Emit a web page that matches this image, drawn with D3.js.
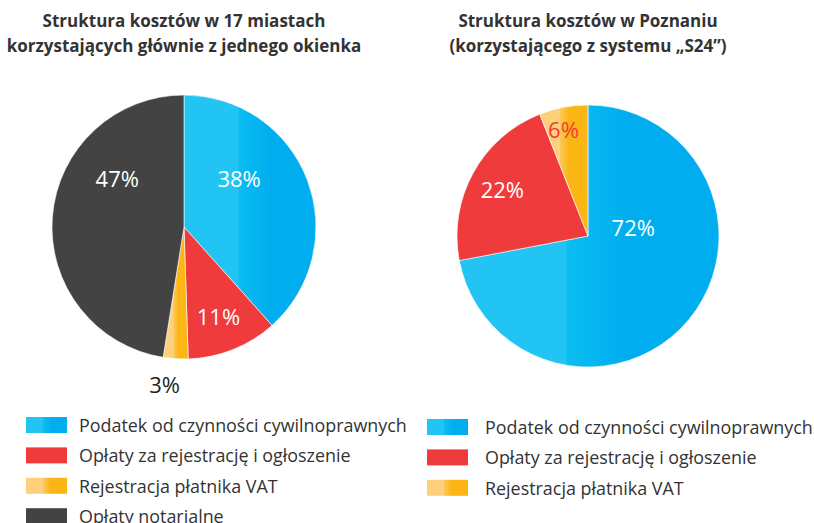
<!DOCTYPE html>
<meta charset="utf-8">
<style>
body { margin: 0; background: #fff; }
svg text { font-family: "Open Sans", "Noto Sans", sans-serif; }
.title { font-weight: 700; font-size: 17px; fill: #333; text-anchor: middle; }
.legend text { font-size: 17.9px; fill: #333; }
.pct { font-size: 22px; text-anchor: middle; }
</style>
<body>
<div id="chart"></div>
<script src="https://cdn.jsdelivr.net/npm/d3@7"></script>
<script>

// data
var categories = ["Podatek od czynności cywilnoprawnych",
                  "Opłaty za rejestrację i ogłoszenie",
                  "Rejestracja płatnika VAT",
                  "Opłaty notarialne"];
var leftValues  = [38, 11, 3, 47];   // 17 miast
var rightValues = [72, 22, 6];       // Poznań
var leftTitle  = ["Struktura kosztów w 17 miastach", "korzystających głównie z jednego okienka"];
var rightTitle = ["Struktura kosztów w Poznaniu", "(korzystającego z systemu „S24”)"];

var width = 814, height = 523;

var svg = d3.select("#chart").append("svg")
    .attr("width", width)
    .attr("height", height);

var defs = svg.append("defs");

function gradient(id, light, mid, dark, a, b) {
    var g = defs.append("linearGradient").attr("id", id)
        .attr("x1", 0).attr("x2", 1).attr("y1", 0).attr("y2", 0);
    [[0, light], [a, light], [a + 0.005, mid], [b, dark], [1, dark]].forEach(function(s) {
        g.append("stop").attr("offset", s[0]).attr("stop-color", s[1]);
    });
}
gradient("blue", "#22c4f3", "#0bbdf1", "#00aeef", 0.41, 0.64);
gradient("yellow", "#fdd17b", "#fcc95e", "#fbb615", 0.41, 0.6);

var fills = ["url(#blue)", "#ef3b3c", "url(#yellow)", "#434343"];

var color = d3.scaleOrdinal()
    .domain(categories)
    .range(fills);

// label placement per slice: angle (deg, clockwise from top), radius, colour
var leftLabels  = [{a: 49, r: 73, c: "#fff"}, {a: 159, r: 96, c: "#fff"},
                   {a: 187, r: 159, c: "#231f20"}, {a: 305.5, r: 82, c: "#fff"}];
var rightLabels = [{a: 80, r: 46, c: "#fff"}, {a: 298, r: 97, c: "#fff"},
                   {a: 347, r: 109, c: "#ef3b3c"}];

function drawPie(values, cx, cy, radius, labels, title) {
    var g = svg.append("g").attr("transform", "translate(" + cx + "," + cy + ")");

    var pie = d3.pie().sort(null).value(function(d) { return d; });
    var arc = d3.arc().innerRadius(0).outerRadius(radius);

    var slices = pie(values);

    g.selectAll("path")
        .data(slices)
        .enter().append("path")
        .attr("d", arc)
        .attr("fill", function(d, i) { return color(categories[i]); })
        .attr("stroke", "#fff")
        .attr("stroke-width", 0.6);

    g.selectAll(".pct")
        .data(slices)
        .enter().append("text")
        .attr("class", "pct")
        .attr("x", function(d, i) { return labels[i].r * Math.sin(labels[i].a * Math.PI / 180); })
        .attr("y", function(d, i) { return -labels[i].r * Math.cos(labels[i].a * Math.PI / 180); })
        .attr("dy", "0.36em")
        .attr("fill", function(d, i) { return labels[i].c; })
        .text(function(d) { return d.data + "%"; });

    svg.selectAll(null)
        .data(title)
        .enter().append("text")
        .attr("class", "title")
        .attr("x", cx)
        .attr("y", function(d, i) { return 27 + i * 25; })
        .text(function(d) { return d; });
}

drawPie(leftValues, 184, 227, 132, leftLabels, leftTitle);
drawPie(rightValues, 588, 236, 131, rightLabels, rightTitle);

function drawLegend(n, x, y, textX) {
    var lg = svg.append("g").attr("class", "legend");
    var items = lg.selectAll("g")
        .data(categories.slice(0, n))
        .enter().append("g")
        .attr("transform", function(d, i) { return "translate(0," + (y + i * 30.4) + ")"; });
    items.append("rect")
        .attr("x", x).attr("width", 41).attr("height", 16)
        .attr("fill", function(d) { return color(d); });
    items.append("text")
        .attr("x", textX).attr("y", 15)
        .text(function(d) { return d; });
}

drawLegend(4, 26, 417, 79);
drawLegend(3, 427, 419, 485);

</script>
